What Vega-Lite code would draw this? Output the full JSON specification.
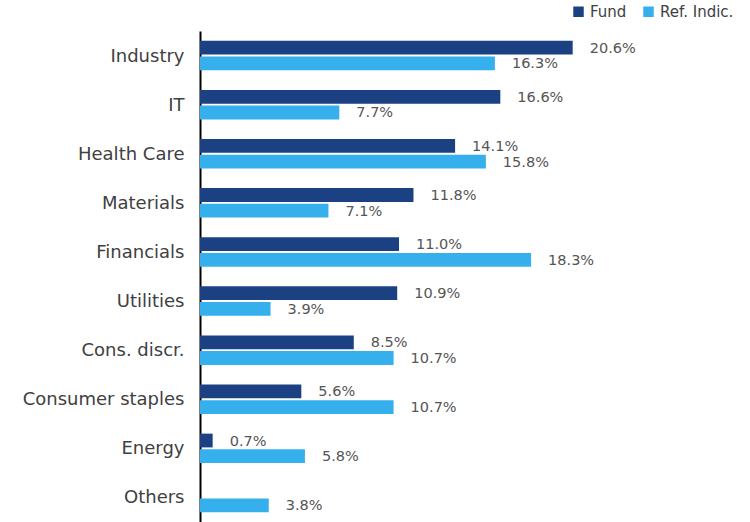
{
  "$schema": "https://vega.github.io/schema/vega-lite/v6.json",
  "width": 550,
  "height": 491,
  "autosize": {"type": "none"},
  "padding": {"left": 200, "top": 31, "right": 0, "bottom": 0},
  "background": "white",
  "config": {
    "view": {"stroke": null},
    "font": "DejaVu Sans"
  },
  "data": {
    "values": [
      {"sector": "Industry", "series": "Fund", "value": 0.206},
      {"sector": "Industry", "series": "Ref. Indic.", "value": 0.163},
      {"sector": "IT", "series": "Fund", "value": 0.166},
      {"sector": "IT", "series": "Ref. Indic.", "value": 0.077},
      {"sector": "Health Care", "series": "Fund", "value": 0.141},
      {"sector": "Health Care", "series": "Ref. Indic.", "value": 0.158},
      {"sector": "Materials", "series": "Fund", "value": 0.118},
      {"sector": "Materials", "series": "Ref. Indic.", "value": 0.071},
      {"sector": "Financials", "series": "Fund", "value": 0.110},
      {"sector": "Financials", "series": "Ref. Indic.", "value": 0.183},
      {"sector": "Utilities", "series": "Fund", "value": 0.109},
      {"sector": "Utilities", "series": "Ref. Indic.", "value": 0.039},
      {"sector": "Cons. discr.", "series": "Fund", "value": 0.085},
      {"sector": "Cons. discr.", "series": "Ref. Indic.", "value": 0.107},
      {"sector": "Consumer staples", "series": "Fund", "value": 0.056},
      {"sector": "Consumer staples", "series": "Ref. Indic.", "value": 0.107},
      {"sector": "Energy", "series": "Fund", "value": 0.007},
      {"sector": "Energy", "series": "Ref. Indic.", "value": 0.058},
      {"sector": "Others", "series": "Ref. Indic.", "value": 0.038}
    ]
  },
  "encoding": {
    "y": {
      "field": "sector",
      "type": "nominal",
      "sort": null,
      "scale": {"paddingInner": 0.4, "paddingOuter": 0.2},
      "axis": {
        "title": null,
        "ticks": false,
        "domainColor": "#000000",
        "domainWidth": 2,
        "labelFontSize": 18,
        "labelColor": "#404040",
        "labelPadding": 16,
        "labelBaseline": "middle",
        "labelOffset": 1,
        "grid": false
      }
    },
    "yOffset": {
      "field": "series",
      "type": "nominal",
      "sort": ["Fund", "Ref. Indic."],
      "scale": {"domain": ["Fund", "Ref. Indic."], "paddingInner": 0.12}
    },
    "x": {
      "field": "value",
      "type": "quantitative",
      "scale": {"domain": [0, 0.304], "nice": false},
      "axis": null
    }
  },
  "layer": [
    {
      "mark": {"type": "bar"},
      "encoding": {
        "color": {
          "field": "series",
          "type": "nominal",
          "scale": {"domain": ["Fund", "Ref. Indic."], "range": ["#1c4182", "#35b0ec"]},
          "legend": {
            "title": null,
            "orient": "none",
            "direction": "horizontal",
            "legendX": 371,
            "legendY": -27,
            "symbolType": "square",
            "symbolSize": 110,
            "symbolStrokeWidth": 0,
            "labelFontSize": 15,
            "labelColor": "#404040",
            "labelOffset": 4,
            "columnPadding": 14
          }
        }
      }
    },
    {
      "mark": {"type": "text", "align": "left", "baseline": "middle", "dx": 17, "dy": 1, "fontSize": 14.5, "color": "#555555"},
      "encoding": {
        "text": {"field": "value", "type": "quantitative", "format": ".1%"}
      }
    }
  ]
}
